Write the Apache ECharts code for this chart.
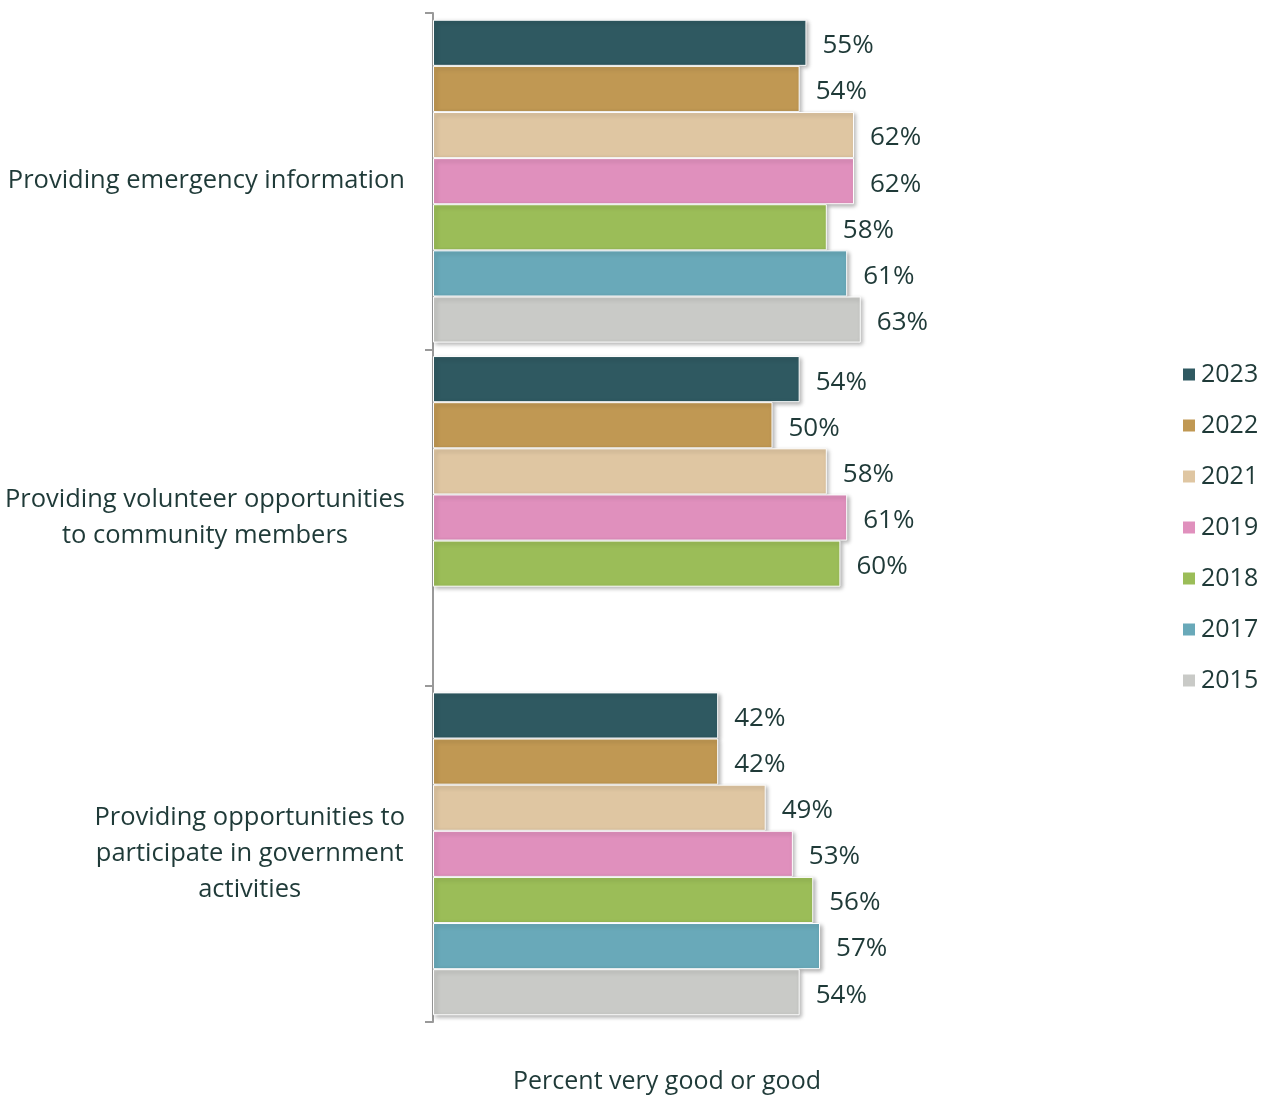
<!DOCTYPE html>
<html>
<head>
<meta charset="utf-8">
<script src="https://cdn.jsdelivr.net/npm/echarts@6/dist/echarts.min.js"></script>
<style>
html,body{margin:0;padding:0;background:#fff;}
#main{width:1266px;height:1100px;}
</style>
</head>
<body>
<div id="main"></div>
<script>
var categories=['Providing emergency information','Providing volunteer opportunities\nto community members','Providing opportunities to\nparticipate in government\nactivities'];
var years=['2023','2022','2021','2019','2018','2017','2015'];
var colors=['#2f5961','#c09853','#dfc6a2','#e090bd','#9bbd58','#69a9b9','#c9cac7'];
var v2023=[55,54,42];
var v2022=[54,50,42];
var v2021=[62,58,49];
var v2019=[62,61,53];
var v2018=[58,60,56];
var v2017=[61,'-',57];
var v2015=[63,'-',54];
var values=[v2023,v2022,v2021,v2019,v2018,v2017,v2015];
var textColor='#1f3a38';
var font='"Open Sans", "Noto Sans", sans-serif';

var chart=echarts.init(document.getElementById('main'));
var series=[];
for(var i=0;i<years.length;i++){
	series.push({
		name:years[i],
		type:'bar',
		data:values[i],
		barGap:'0%',
		barCategoryGap:'4%',
		itemStyle:{
			color:colors[i],
			borderColor:'#fff',
			borderWidth:1,
			shadowColor:'rgba(0,0,0,0.3)',
			shadowBlur:4,
			shadowOffsetX:2,
			shadowOffsetY:2
		},
		label:{
			show:true,
			position:'right',
			distance:16,
			offset:[0,3],
			formatter:'{c}%',
			color:textColor,
			fontSize:26,
			fontFamily:font
		}
	});
}
var option={
	color:colors,
	animation:false,
	grid:{left:433,right:154,top:13,bottom:78},
	legend:{
		orient:'vertical',
		left:1176,
		top:357,
		icon:'rect',
		itemWidth:14,
		itemHeight:14,
		itemGap:26,
		textStyle:{color:textColor,fontSize:25,fontFamily:font}
	},
	xAxis:{
		type:'value',
		min:0,
		max:100,
		show:false
	},
	yAxis:{
		type:'category',
		inverse:true,
		data:categories,
		axisLine:{lineStyle:{color:'#999',width:2}},
		axisTick:{show:true,length:8,lineStyle:{color:'#999',width:2}},
		axisLabel:{
			margin:28,
			align:'right',
			lineHeight:36,
			formatter:function(val){
				return val.split('\n').map(function(s){return '{c|'+s+'}';}).join('\n');
			},
			rich:{
				c:{align:'center',color:textColor,fontSize:25.5,fontFamily:font,lineHeight:36}
			}
		}
	},
	graphic:[{
		type:'text',
		x:667,
		y:1082,
		style:{text:'Percent very good or good',fill:textColor,fontSize:25,fontFamily:font,textAlign:'center',textVerticalAlign:'middle'}
	}],
	series:series
};
chart.setOption(option);
window.addEventListener('resize',function(){
	chart.resize();
});
</script>
</body>
</html>
